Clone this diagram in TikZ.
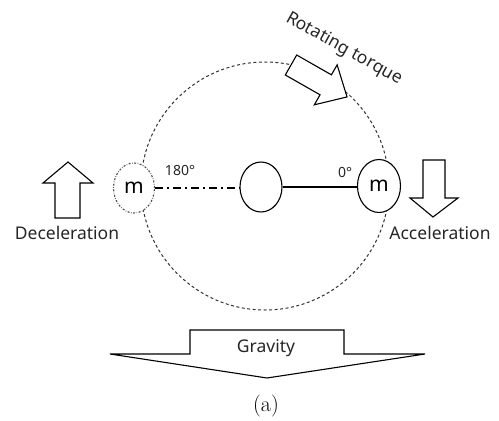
\documentclass[tikz,border=0pt]{standalone}
\usepackage{fontspec}
\setsansfont{Noto Sans}
\usetikzlibrary{shapes.geometric}
\begin{document}
\begin{tikzpicture}[x=1pt,y=-1pt,
  lw/.style={line width=1.1pt},
  lbl/.style={font=\sffamily\fontsize{17.5}{17.5}\selectfont, text=black!85},
  deg/.style={font=\sffamily\fontsize{14}{14}\selectfont, text=black!85},
  massnode/.style={ellipse, draw, lw, fill=white, inner sep=0pt,
    font=\sffamily\fontsize{21}{21}\selectfont},
  bigarrow/.style={draw, lw, fill=white, line join=miter},
  orbit/.style={line width=1pt, dash pattern=on 3pt off 2.5pt, black!80}]
\useasboundingbox (0,0) rectangle (499,421);
% orbit
\draw[orbit] (265,186) circle[x radius=124pt, y radius=124pt];
% hub and masses
\node[ellipse, draw, lw, fill=white, minimum width=42pt, minimum height=50pt, inner sep=0pt] (hub) at (261,187) {};
\node[massnode, minimum width=43pt, minimum height=53pt] (mR) at (379,186) {m};
\node[massnode, draw=black!70, dash pattern=on 2pt off 1.5pt on 0.6pt off 1.5pt, minimum width=41pt, minimum height=50pt] (mL) at (134,188) {m};
\draw[lw] (hub.east) -- (hub.east -| mR.west);
\draw[lw, dash pattern=on 8pt off 4pt on 2pt off 4pt] (mL.east) -- (mL.east -| hub.west);
\node[deg] (d180) at (180,170) {180°};
\node[deg] (d0) at (345,172) {0°};
% torque arrow
\begin{scope}[shift={(291,65)}, rotate=-29.7]
\path[bigarrow] (0,-11.5) -- (40,-11.5) -- (40,-23) -- (64.5,0) -- (40,23) -- (40,11.5) -- (0,11.5) -- cycle;
\end{scope}
\node[lbl, rotate=-29] (torque) at (344,49) {Rotating torque};
% deceleration arrow
\path[bigarrow] (68,162) -- (93,183) -- (80,183) -- (80,218) -- (55,218) -- (55,183) -- (43,183) -- cycle;
\node[lbl] (dec) at (67,233) {Deceleration};
% acceleration arrow
\path[bigarrow] (423,160) -- (445,160) -- (445,198) -- (458,198) -- (433,217) -- (410,198) -- (423,198) -- cycle;
\node[lbl] (acc) at (440,233) {Acceleration};
% gravity arrow
\path[bigarrow] (190,330) -- (344,330) -- (344,354) -- (425,354) -- (267,378) -- (110,354) -- (190,354) -- cycle;
\node[lbl] (grav) at (266,348) {Gravity};
\node[font=\rmfamily\fontsize{22}{22}\selectfont] (cap) at (266,406) {(a)};
\end{tikzpicture}
\end{document}
